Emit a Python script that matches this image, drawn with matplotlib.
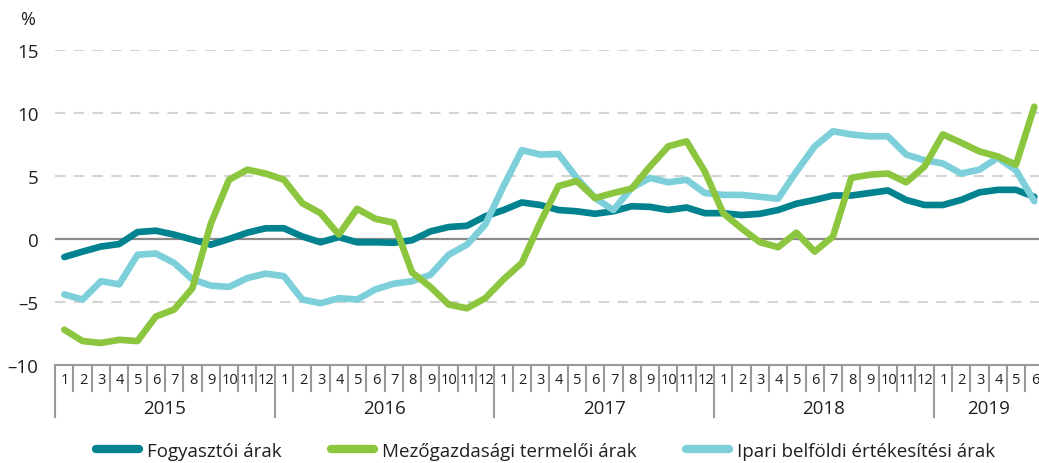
import numpy as np
import matplotlib
matplotlib.use("Agg")
from matplotlib import pyplot as plt
from matplotlib import font_manager

# data (annual change, %), monthly 2015.01 - 2019.06
years = ["2015", "2016", "2017", "2018", "2019"]
months_per_year = [12, 12, 12, 12, 6]
series_names = ["Fogyasztói árak", "Mezőgazdasági termelői árak", "Ipari belföldi értékesítési árak"]

fogyasztoi = [-1.43, -1.0, -0.6, -0.4, 0.55, 0.66, 0.35, -0.05, -0.45, 0.0, 0.5, 0.85,
              0.85, 0.2, -0.26, 0.15, -0.26, -0.26, -0.3, -0.1, 0.6, 0.95, 1.05, 1.8,
              2.3, 2.9, 2.7, 2.3, 2.2, 2.0, 2.2, 2.6, 2.55, 2.3, 2.5, 2.05,
              2.05, 1.9, 2.0, 2.3, 2.8, 3.1, 3.45, 3.45, 3.65, 3.85, 3.1, 2.7,
              2.7, 3.1, 3.7, 3.9, 3.9, 3.35]
mezogazdasagi = [-7.2, -8.1, -8.25, -8.0, -8.1, -6.15, -5.6, -3.9, 1.2, 4.7, 5.5, 5.2,
                 4.7, 2.85, 2.05, 0.35, 2.4, 1.6, 1.3, -2.65, -3.8, -5.2, -5.5, -4.7,
                 -3.2, -1.9, 1.3, 4.2, 4.6, 3.25, 3.65, 4.0, 5.75, 7.35, 7.75, 5.35,
                 2.05, 0.85, -0.25, -0.65, 0.5, -1.0, 0.2, 4.85, 5.1, 5.2, 4.5, 5.75,
                 8.3, 7.65, 6.95, 6.55, 5.9, 10.5]
ipari = [-4.4, -4.8, -3.35, -3.6, -1.25, -1.15, -1.9, -3.2, -3.7, -3.8, -3.1, -2.75,
         -2.95, -4.8, -5.1, -4.7, -4.8, -4.0, -3.55, -3.35, -2.85, -1.25, -0.45, 1.15,
         4.2, 7.05, 6.7, 6.75, 4.85, 3.25, 2.3, 4.05, 4.85, 4.5, 4.7, 3.65,
         3.5, 3.5, 3.35, 3.2, 5.35, 7.35, 8.55, 8.3, 8.15, 8.15, 6.7, 6.25,
         6.0, 5.2, 5.5, 6.45, 5.45, 3.0]
yticks = [-10, -5, 0, 5, 10, 15]
ytick_labels = ["–10", "–5", "0", "5", "10", "15"]

colors = ["#00838f", "#8cc63f", "#7dd0da"]

names = {f.name for f in font_manager.fontManager.ttflist}
narrow = "Liberation Sans Narrow" if "Liberation Sans Narrow" in names else "Open Sans"
month_size = 12.5 if narrow == "Liberation Sans Narrow" else 10.5
plt.rcParams["font.family"] = ["Open Sans", "DejaVu Sans"]

fig = plt.figure(figsize=(10.39, 4.64), dpi=100)
ax = fig.add_axes([55.15 / 1039, 98 / 464, 988.3 / 1039, 315 / 464])

x = np.arange(len(fogyasztoi))
ax.plot(x, fogyasztoi, color=colors[0], lw=4.8, solid_joinstyle="round", solid_capstyle="round", zorder=3)
ax.plot(x, ipari, color=colors[2], lw=4.8, solid_joinstyle="round", solid_capstyle="round", zorder=4)
ax.plot(x, mezogazdasagi, color=colors[1], lw=4.8, solid_joinstyle="round", solid_capstyle="round", zorder=5)

ax.set_xlim(-0.5, len(x) - 0.5)
ax.set_ylim(-10, 15)
for y in [-5, 5, 10, 15]:
    ax.axhline(y, color="#d4d4d4", lw=1.5, dashes=(5, 4), zorder=1)
ax.axhline(0, color="#8a8a8a", lw=1.6, zorder=2)

for s in ["top", "right", "left"]:
    ax.spines[s].set_visible(False)
ax.spines["bottom"].set_color("#999999")
ax.spines["bottom"].set_linewidth(1.5)
ax.set_yticks(yticks)
ax.set_yticklabels(ytick_labels, fontsize=13.5, color="#231f20")
ax.tick_params(axis="y", length=0, pad=12)
ax.set_xticks([])

# month / year category axis
tr = ax.get_xaxis_transform()
h = 315.0
start = 0
for yr, n in zip(years, months_per_year):
    for m in range(n):
        i = start + m
        ax.text(i + 0.04, -15 / h, str(m + 1), transform=tr, ha="center", va="center",
                fontsize=month_size, family=narrow, color="#231f20")
        if m > 0:
            ax.plot([i - 0.5, i - 0.5], [0, -26 / h], transform=tr, color="#999999", lw=1.5, clip_on=False)
    ax.plot([start - 0.5, start - 0.5], [0, -52 / h], transform=tr, color="#999999", lw=1.5, clip_on=False)
    ax.text(start + n / 2 - 0.5, -43 / h, yr, transform=tr, ha="center", va="center",
            fontsize=13.5, color="#231f20")
    start += n

fig.text(20 / 1039, 1 - 20 / 464, "%", fontsize=13, ha="left", va="center", color="#231f20")

handles = [plt.Line2D([], [], color=c, lw=6, solid_capstyle="round") for c in colors]
fig.legend(handles, series_names, loc="center", bbox_to_anchor=(0.525, 1 - 452 / 464), ncol=3,
           frameon=False, fontsize=13.5, handlelength=2.3, handletextpad=0.45, columnspacing=2.6,
           labelcolor="#231f20")

fig.savefig("out.png", dpi=100)
